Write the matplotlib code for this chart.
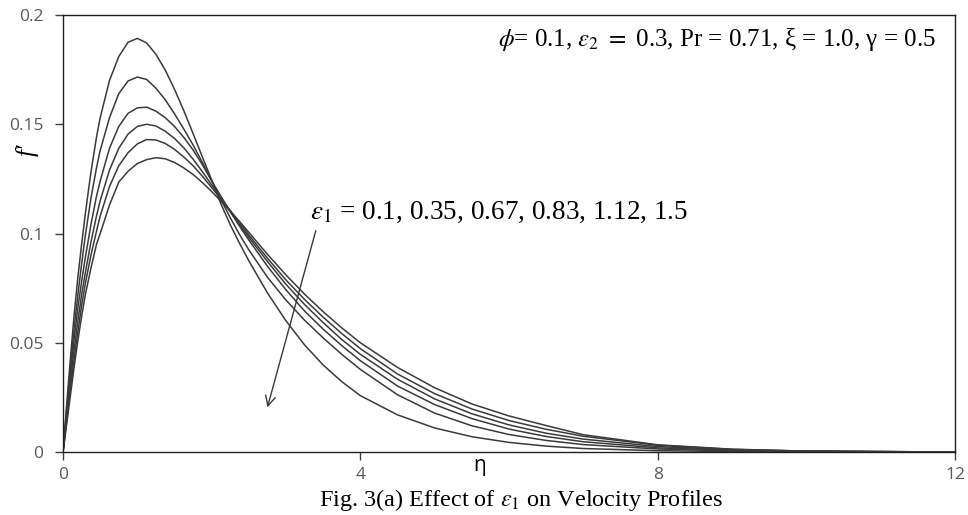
import numpy as np
import matplotlib
matplotlib.use("Agg")
import matplotlib.pyplot as plt

# ------------------------------
# Data
# ------------------------------

eta = [0, 0.05, 0.1, 0.15, 0.2, 0.25, 0.3, 0.375, 0.45, 0.5,
       0.625, 0.75, 0.875, 1.0, 1.125, 1.25, 1.375, 1.5, 1.625, 1.75,
       1.875, 2.0, 2.125, 2.25, 2.375, 2.5, 2.75, 3.0, 3.25, 3.5,
       3.75, 4.0, 4.5, 5.0, 5.5, 6.0, 6.5, 7, 8, 9,
       10, 12]

eps1_values = [0.1, 0.35, 0.67, 0.83, 1.12, 1.5]

fp_eps_010 = [0, .022, .043, .063, .080, .095, .109, .128, .144, .153,
              .170, .181, .1875, .1893, .1872, .1820, .1748, .1660, .1562, .1457,
              .1350, .1245, .1135, .1040, .0955, .0875, .0728, .0600, .0490, .0398,
              .0322, .0258, .0170, .0110, .0070, .0044, .0027, .0016, .0006, .0002,
              .0001, 0]
fp_eps_035 = [0, .020, .039, .057, .072, .086, .099, .116, .130, .138,
              .153, .164, .1698, .1716, .1705, .1665, .1612, .1548, .1478, .1405,
              .1325, .1242, .1155, .1072, .0995, .0925, .0800, .0695, .0603, .0522,
              .0447, .0378, .0262, .0178, .0120, .0080, .0053, .0034, .0014, .0005,
              .0002, 0]
fp_eps_067 = [0, .0175, .035, .052, .066, .078, .089, .104, .117, .124,
              .139, .149, .1550, .1575, .1578, .1560, .1530, .1490, .1440, .1382,
              .1315, .1240, .1170, .1100, .1033, .0970, .0850, .0742, .0645, .0562,
              .0487, .0418, .0302, .0217, .0153, .0105, .0071, .0047, .0019, .0008,
              .0003, 0]
fp_eps_083 = [0, .016, .032, .047, .060, .072, .082, .096, .108, .115,
              .129, .139, .1455, .1490, .1500, .1492, .1468, .1435, .1392, .1340,
              .1283, .1222, .1160, .1100, .1040, .0982, .0872, .0767, .0675, .0592,
              .0515, .0447, .0333, .0243, .0175, .0124, .0086, .0059, .0025, .0010,
              .0004, 0]
fp_eps_112 = [0, .0145, .029, .043, .055, .067, .077, .090, .101, .108,
              .1215, .131, .137, .1410, .1430, .1428, .1412, .1385, .1350, .1310,
              .1262, .1210, .1158, .1105, .1050, .0993, .0887, .0787, .0698, .0617,
              .0542, .0473, .0357, .0267, .0197, .0144, .0104, .0072, .0031, .0012,
              .0004, 0]
fp_eps_150 = [0, .013, .026, .039, .051, .062, .072, .084, .095, .100,
              .113, .1235, .1285, .1320, .1338, .1347, .1342, .1325, .1300, .1270,
              .1233, .1192, .1148, .1102, .1055, .1005, .0905, .0810, .0722, .0642,
              .0568, .0500, .0387, .0294, .0220, .0165, .0121, .0079, .0033, .0013,
              .0004, 0]

xticks = [0, 4, 8, 12]
yticks = [0, 0.05, 0.1, 0.15, 0.2]
ytick_labels = ["0", "0.05", "0.1", "0.15", "0.2"]

# ------------------------------
# Plot
# ------------------------------

plt.rcParams['mathtext.fontset'] = 'stix'

fig = plt.figure(figsize=(9.68, 5.15), dpi=100)
ax = fig.add_axes([0.0651, 0.1223, 0.9215, 0.8486])

for ys in [fp_eps_010, fp_eps_035, fp_eps_067, fp_eps_083, fp_eps_112, fp_eps_150]:
    ax.plot(eta, ys, color="#3a3a3a", lw=1.1, solid_joinstyle="round")

ax.set_xlim(0, 12)
ax.set_ylim(0, 0.2)
ax.set_xticks(xticks)
ax.set_xticklabels([str(x) for x in xticks])
ax.set_yticks(yticks)
ax.set_yticklabels(ytick_labels)

for lab in ax.get_xticklabels() + ax.get_yticklabels():
    lab.set_fontfamily("Open Sans")
    lab.set_fontsize(12.5)
    lab.set_color("#595959")
ax.tick_params(axis="both", direction="out", length=6, width=1, color="#404040")
ax.tick_params(axis="y", pad=8)
ax.tick_params(axis="x", pad=5)

for sp in ax.spines.values():
    sp.set_color("#202020")
    sp.set_linewidth(1.0)

# axis labels and caption placed in figure coordinates
fig.text(27 / 968, 1 - 150 / 515, "f\u2032", family="Liberation Serif",
         style="italic", fontsize=18, rotation=90, ha="center", va="center")
fig.text(480 / 968, 1 - 465 / 515, "\u03b7", family="Open Sans", fontsize=15,
         ha="center", va="center")
fig.text(521 / 968, 1 - 506 / 515,
         r"Fig. 3(a) Effect of $\varepsilon_1$ on Velocity Profiles",
         family="Liberation Serif", fontsize=17.5, ha="center", va="baseline")

ax.text(0.978, 0.943,
        r"$\phi$= 0.1, $\varepsilon_2$ $=$ 0.3, Pr = 0.71, ξ = 1.0, γ = 0.5",
        transform=ax.transAxes, family="Liberation Serif", fontsize=18,
        ha="right", va="center")

ax.text(0.277, 0.549, r"$\varepsilon_1$ = 0.1, 0.35, 0.67, 0.83, 1.12, 1.5",
        transform=ax.transAxes, family="Liberation Serif", fontsize=19.5,
        ha="left", va="center")

ax.annotate("", xy=(2.74, 0.0192), xytext=(3.41, 0.1025),
            arrowprops=dict(arrowstyle="->", color="#3a3a3a", lw=1.0,
                            mutation_scale=18))

fig.savefig("out.png", dpi=100)
